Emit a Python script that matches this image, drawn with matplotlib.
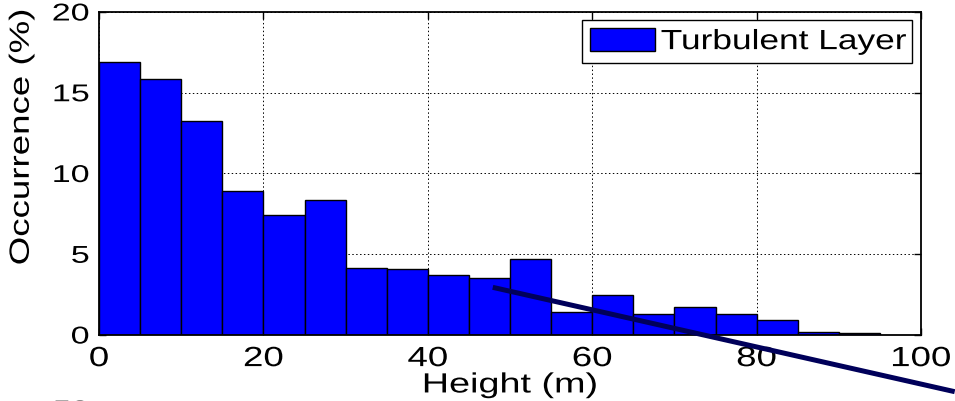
import numpy as np
import matplotlib
matplotlib.use("Agg")
import matplotlib.pyplot as plt
from matplotlib.patheffects import AbstractPathEffect
from matplotlib.transforms import Affine2D

# histogram of turbulent layer heights, 5 m bins
bin_left = [0, 5, 10, 15, 20, 25, 30, 35, 40, 45, 50, 55, 60, 65, 70, 75, 80, 85, 90]
occurrence = [16.9, 15.85, 13.25, 8.9, 7.45, 8.35, 4.15, 4.07, 3.72, 3.52, 4.72,
              1.42, 2.45, 1.32, 1.72, 1.32, 0.95, 0.2, 0.1]
bin_width = 5

# stray dark line crossing the plot (runs past the axes)
line_x = [47.9, 104.1]
line_y = [2.95, -3.51]

x_ticks = [0, 20, 40, 60, 80, 100]
y_ticks = [0, 5, 10, 15, 20]


class Widen(AbstractPathEffect):
    """draw text glyphs stretched along the line, like the wide MATLAB export"""
    def __init__(self, sx, anchor='center'):
        super().__init__()
        self.sx = sx
        self.anchor = anchor

    def draw_path(self, renderer, gc, tpath, affine, rgbFace=None):
        ext = tpath.get_extents()
        x0 = {'left': ext.x0, 'center': (ext.x0 + ext.x1) / 2, 'right': ext.x1}[self.anchor]
        stretch = Affine2D().translate(-x0, 0).scale(self.sx, 1).translate(x0, 0)
        renderer.draw_path(gc, tpath, stretch + affine, rgbFace)


plt.rcParams['font.family'] = ['Liberation Sans', 'DejaVu Sans']

fig = plt.figure(figsize=(9.55, 4.02), dpi=100)
ax = fig.add_axes([0.1037, 0.1642, 0.8607, 0.8035])

ax.bar(bin_left, occurrence, width=bin_width, align='edge', color='#0000ff',
       edgecolor='black', linewidth=1.0, label='Turbulent Layer', zorder=2)
ax.plot(line_x, line_y, color='#00005a', linewidth=3.6, clip_on=False, zorder=5,
        solid_capstyle='butt')

ax.set_xlim(0, 100)
ax.set_ylim(0, 20)
ax.set_xticks(x_ticks)
ax.set_yticks(y_ticks)
ax.set_axisbelow(True)
ax.grid(True, color='black', linestyle=(0, (1.5, 2.5)), linewidth=0.7)

ax.tick_params(direction='in', top=True, right=True, length=5, width=1.0)
ax.tick_params(axis='x', labelsize=20, pad=8)
ax.tick_params(axis='y', labelsize=17.5, pad=7)
for s in ax.spines.values():
    s.set_linewidth(1.3)
for lab in ax.get_xticklabels():
    lab.set_path_effects([Widen(1.32)])
for lab in ax.get_yticklabels():
    lab.set_path_effects([Widen(1.4, 'right')])

ax.set_xlabel('Height (m)', fontsize=20, path_effects=[Widen(1.36)])
ax.xaxis.set_label_coords(0.5, -0.116)
ax.set_ylabel('Occurrence (%)', fontsize=20, va='center', path_effects=[Widen(1.32)])
ax.yaxis.set_label_coords(-0.094, 0.613)

leg = ax.legend(loc='upper left', bbox_to_anchor=(0.5876, 0.8607, 0.4015, 0.1145),
                mode='expand', borderaxespad=0, fontsize=20, handlelength=2.34,
                handleheight=0.86, handletextpad=0.2, borderpad=0.3,
                fancybox=False, framealpha=1)
leg.get_frame().set_edgecolor('black')
leg.get_frame().set_linewidth(1.0)
for t in leg.get_texts():
    t.set_path_effects([Widen(1.27, 'left')])

# top of a label cut off at the bottom edge of the figure
fig.text(71 / 955, 0.006, '50', fontsize=18, color='#777777', ha='center', va='top',
         path_effects=[Widen(1.3)])

fig.savefig('out.png', dpi=100)
